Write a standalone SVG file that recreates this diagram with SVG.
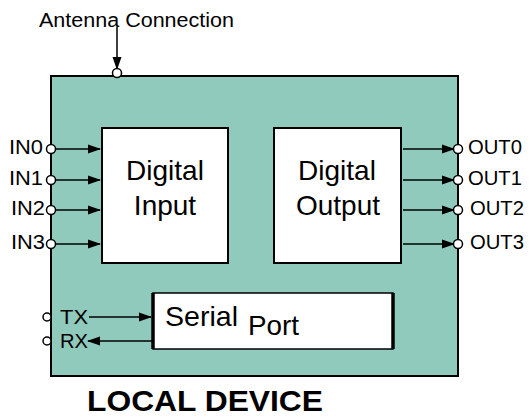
<svg xmlns="http://www.w3.org/2000/svg" width="530" height="417" viewBox="0 0 530 417">
<style>
text{font-family:"Liberation Sans",Arial,sans-serif;fill:#000}
.lbl{font-size:20px}
.big{font-size:28px}
.ln{stroke:#000;stroke-width:1.5;fill:none}
.pin{fill:#fff;stroke:#000;stroke-width:1.5}
.blk{fill:#fff;stroke:#000;stroke-width:2}
</style>
<defs>
<marker id="ah" markerWidth="13" markerHeight="10" refX="12" refY="5" orient="auto" markerUnits="userSpaceOnUse">
<path d="M0,0.5 L13,5 L0,9.5 Z" fill="#000"/>
</marker>
</defs>
<rect width="530" height="417" fill="#fff"/>
<g id="device">
<rect x="51" y="76" width="407" height="300" fill="#8fcabc" stroke="#000" stroke-width="2"/>
<text x="87" y="411" style="font-size:30px;font-weight:bold" textLength="236" lengthAdjust="spacingAndGlyphs">LOCAL DEVICE</text>
</g>
<g id="digital-input">
<rect class="blk" x="102" y="128" width="126" height="135"/>
<text class="big" x="165" y="180" text-anchor="middle">Digital</text>
<text class="big" x="165" y="215" text-anchor="middle">Input</text>
</g>
<g id="digital-output">
<rect class="blk" x="274" y="128" width="127" height="135"/>
<text class="big" x="337" y="180" text-anchor="middle">Digital</text>
<text class="big" x="338" y="215" text-anchor="middle">Output</text>
</g>
<g id="serial-port">
<rect x="153" y="293" width="240" height="56" fill="#fff" stroke="#000" stroke-width="1.5"/>
<line x1="153" y1="293" x2="153" y2="349" stroke="#000" stroke-width="3.5"/>
<line x1="393" y1="293" x2="393" y2="349" stroke="#000" stroke-width="3.5"/>
<text class="big" x="165" y="326" textLength="73" lengthAdjust="spacingAndGlyphs">Serial</text>
<text class="big" x="248" y="335" textLength="51" lengthAdjust="spacingAndGlyphs">Port</text>
</g>
<g id="connectors">
<line class="ln" x1="117" y1="27" x2="117" y2="69" marker-end="url(#ah)"/>
<line class="ln" x1="55" y1="149" x2="100" y2="149" marker-end="url(#ah)"/>
<line class="ln" x1="55" y1="180" x2="100" y2="180" marker-end="url(#ah)"/>
<line class="ln" x1="55" y1="210" x2="100" y2="210" marker-end="url(#ah)"/>
<line class="ln" x1="55" y1="244" x2="100" y2="244" marker-end="url(#ah)"/>
<line class="ln" x1="403" y1="149" x2="454" y2="149" marker-end="url(#ah)"/>
<line class="ln" x1="403" y1="180" x2="454" y2="180" marker-end="url(#ah)"/>
<line class="ln" x1="403" y1="210" x2="454" y2="210" marker-end="url(#ah)"/>
<line class="ln" x1="403" y1="244" x2="454" y2="244" marker-end="url(#ah)"/>
<line class="ln" x1="89" y1="317" x2="151" y2="317" marker-end="url(#ah)"/>
<line class="ln" x1="152" y1="341" x2="88" y2="341" marker-end="url(#ah)"/>
</g>
<g id="pins">
<circle class="pin" cx="117" cy="73" r="4.5"/>
<circle class="pin" cx="51" cy="149" r="4.5"/>
<circle class="pin" cx="51" cy="180" r="4.5"/>
<circle class="pin" cx="51" cy="210" r="4.5"/>
<circle class="pin" cx="51" cy="244" r="4.5"/>
<circle class="pin" cx="458" cy="149" r="4.5"/>
<circle class="pin" cx="458" cy="180" r="4.5"/>
<circle class="pin" cx="458" cy="210" r="4.5"/>
<circle class="pin" cx="458" cy="244" r="4.5"/>
<circle class="pin" cx="47" cy="317" r="4"/>
<circle class="pin" cx="47" cy="341" r="4"/>
</g>
<g id="labels">
<text class="lbl" x="39" y="27" textLength="195" lengthAdjust="spacingAndGlyphs">Antenna Connection</text>
<text class="lbl" x="9" y="154" textLength="34" lengthAdjust="spacingAndGlyphs">IN0</text>
<text class="lbl" x="9" y="185" textLength="34" lengthAdjust="spacingAndGlyphs">IN1</text>
<text class="lbl" x="11" y="215" textLength="34" lengthAdjust="spacingAndGlyphs">IN2</text>
<text class="lbl" x="11" y="249" textLength="34" lengthAdjust="spacingAndGlyphs">IN3</text>
<text class="lbl" x="468" y="154" textLength="54" lengthAdjust="spacingAndGlyphs">OUT0</text>
<text class="lbl" x="468" y="185" textLength="54" lengthAdjust="spacingAndGlyphs">OUT1</text>
<text class="lbl" x="470" y="215" textLength="54" lengthAdjust="spacingAndGlyphs">OUT2</text>
<text class="lbl" x="470" y="249" textLength="54" lengthAdjust="spacingAndGlyphs">OUT3</text>
<text class="lbl" x="60" y="324" textLength="28" lengthAdjust="spacingAndGlyphs">TX</text>
<text class="lbl" x="60" y="348" textLength="28" lengthAdjust="spacingAndGlyphs">RX</text>
</g>
</svg>
